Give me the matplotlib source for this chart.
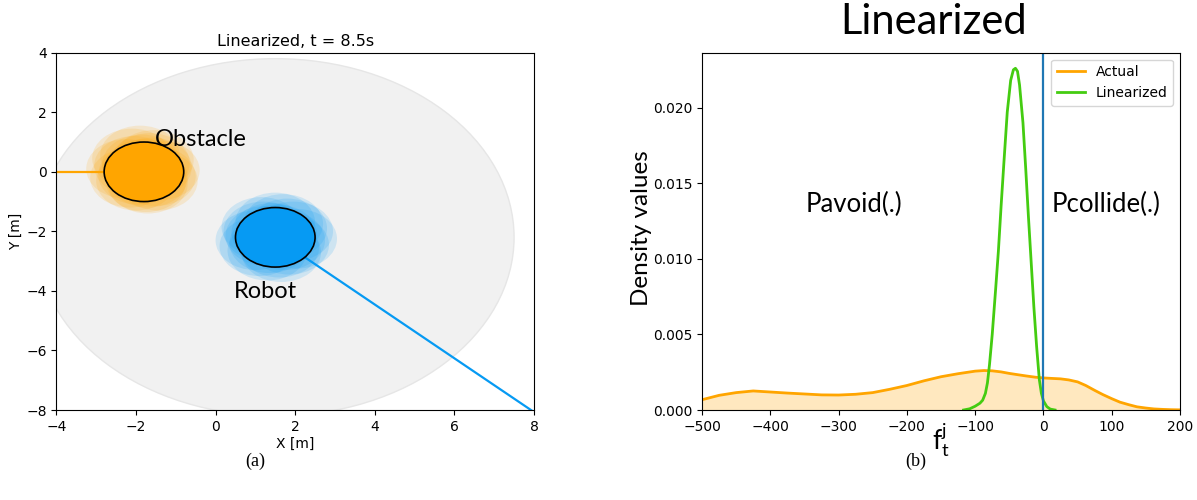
import matplotlib
matplotlib.use("Agg")
import matplotlib.pyplot as plt
from matplotlib.patches import Circle

# ---- panel (a): scene snapshot ----
robot_xy = (1.5, -2.2)
obstacle_xy = (-1.8, 0.0)
body_radius = 1.0
sensing_radius = 6.0

# sampled positions around each body (offsets from the mean)
robot_dx = [-0.5, -0.35, -0.2, 0.0, 0.15, 0.3, 0.45, 0.55, 0.2, -0.4, 0.1, -0.1, 0.35, -0.25,
            0.05, -0.15, 0.25, -0.3]
robot_dy = [-0.1, 0.35, -0.45, 0.5, -0.5, 0.3, 0.2, -0.05, 0.45, -0.3, -0.35, 0.15, -0.25, 0.05,
            0.1, -0.2, -0.1, 0.2]
obstacle_dx = [-0.45, -0.3, -0.2, -0.1, 0.05, 0.15, 0.3, 0.4, 0.25, -0.35, 0.1, -0.05, 0.35, -0.25,
               0.0, -0.15, 0.2, 0.1]
obstacle_dy = [0.1, 0.45, -0.3, 0.55, -0.35, 0.3, -0.15, 0.05, 0.4, -0.2, -0.4, 0.25, -0.3, 0.2,
               0.1, -0.1, 0.15, -0.2]

# trajectories
obstacle_path_x = [-4.2, -1.8]
obstacle_path_y = [0.0, 0.0]
robot_path_x = [1.5, 8.2]
robot_path_y = [-2.2, -8.25]

# ---- panel (b): density of the constraint value ----
actual_x = [-500, -475, -450, -425, -400, -375, -350, -325, -300, -275, -250, -225,
            -200, -175, -150, -125, -100, -87, -75, -62, -50, -37, -25, -12, 0, 12, 25,
            37, 50, 62, 75, 87, 100, 112, 125, 137, 150, 162, 175, 187, 200]
actual_y = [0.00068, 0.00097, 0.00115, 0.00126, 0.00119, 0.00112, 0.00106, 0.00100,
            0.00099, 0.00104, 0.00115, 0.00137, 0.00162, 0.00193, 0.00220, 0.00240,
            0.00257, 0.00261, 0.00259, 0.00252, 0.00242, 0.00233, 0.00225, 0.00217,
            0.00212, 0.00209, 0.00206, 0.00199, 0.00186, 0.00162, 0.00130, 0.00102,
            0.00075, 0.00052, 0.00035, 0.00021, 0.00013, 0.00007, 0.00004, 0.00002,
            0.00001]
lin_x = [-117, -108, -100, -93, -89, -85, -82, -79, -75, -70, -66, -62, -58, -53,
         -48, -44, -41, -38, -35, -30, -26, -22, -18, -14, -10, -6, -3, 0, 5, 10, 17]
lin_y = [0.0, 0.00008, 0.00025, 0.00045, 0.00065, 0.0011, 0.0018, 0.0030, 0.0050,
         0.0080, 0.0105, 0.0135, 0.0163, 0.0197, 0.0218, 0.0225, 0.0226, 0.0224,
         0.0215, 0.0190, 0.0160, 0.0128, 0.0098, 0.0068, 0.0042, 0.0020, 0.0011,
         0.0006, 0.00022, 0.00006, 0.0]

blue = "#069AF3"
orange = "#FFA500"
green = "#44CC11"
label_font = "Lato"

fig = plt.figure(figsize=(11.97, 5.0), dpi=100)
ax1 = fig.add_axes([0.0471, 0.18, 0.399, 0.7146])
ax2 = fig.add_axes([0.5865, 0.18, 0.3993, 0.7146])

# panel (a)
ax1.add_patch(Circle(robot_xy, sensing_radius, facecolor="#f1f1f1",
                     edgecolor="#e6e6e6", lw=1, zorder=1))
ax1.plot(obstacle_path_x, obstacle_path_y, color=orange, lw=1.6, zorder=2)
ax1.plot(robot_path_x, robot_path_y, color=blue, lw=1.6, zorder=2)
for dx, dy in zip(obstacle_dx, obstacle_dy):
    ax1.add_patch(Circle((obstacle_xy[0] + dx, obstacle_xy[1] + dy), body_radius,
                         facecolor=orange, edgecolor="none", alpha=0.15, zorder=3))
for dx, dy in zip(robot_dx, robot_dy):
    ax1.add_patch(Circle((robot_xy[0] + dx, robot_xy[1] + dy), body_radius,
                         facecolor=blue, edgecolor="none", alpha=0.15, zorder=3))
ax1.add_patch(Circle(obstacle_xy, body_radius, facecolor=orange, edgecolor="black",
                     lw=1.2, zorder=4))
ax1.add_patch(Circle(robot_xy, body_radius, facecolor=blue, edgecolor="black",
                     lw=1.2, zorder=4))
ax1.text(-1.52, 0.88, "Obstacle", fontsize=17, family=label_font, zorder=5)
ax1.text(0.47, -4.23, "Robot", fontsize=17, family=label_font, zorder=5)
ax1.set_xlim(-4, 8)
ax1.set_ylim(-8, 4)
ax1.set_xticks(range(-4, 9, 2))
ax1.set_yticks(range(-8, 5, 2))
ax1.set_title("Linearized, t = 8.5s", fontsize=11.5, pad=5)
ax1.set_xlabel("X [m]", fontsize=10, labelpad=2)
ax1.set_ylabel("Y [m]", fontsize=10, labelpad=2)
ax1.tick_params(labelsize=10)

# panel (b)
ax2.fill_between(actual_x, actual_y, color=orange, alpha=0.25, lw=0)
ax2.plot(actual_x, actual_y, color=orange, lw=2, label="Actual")
ax2.plot(lin_x, lin_y, color=green, lw=2, label="Linearized")
ax2.axvline(0, color="#1f77b4", lw=1.6)
ax2.set_xlim(-500, 200)
ax2.set_ylim(0, 0.02363)
ax2.set_xticks(range(-500, 201, 100))
ax2.set_yticks([0.0, 0.005, 0.010, 0.015, 0.020])
ax2.tick_params(labelsize=10)
ax2.legend(loc="upper right", fontsize=10)
ax2.text(-349, 0.01308, "Pavoid(.)", fontsize=18.5, family=label_font)
ax2.text(12, 0.01308, "Pcollide(.)", fontsize=18.5, family=label_font)
ax2.set_ylabel("Density values", fontsize=17.5, family=label_font)
ax2.yaxis.set_label_coords(-0.105, 0.509)
ax2.set_xlabel(r"$\mathregular{f_t^j}$", fontsize=19, family=label_font, labelpad=-9)

fig.text(0.78, 0.955, "Linearized", fontsize=30, family=label_font,
         ha="center", va="center")
fig.text(0.213, 0.078, "(a)", fontsize=13, family="Liberation Serif",
         ha="center", va="center")
fig.text(0.765, 0.078, "(b)", fontsize=13, family="Liberation Serif",
         ha="center", va="center")

fig.savefig("out.png", dpi=100)
